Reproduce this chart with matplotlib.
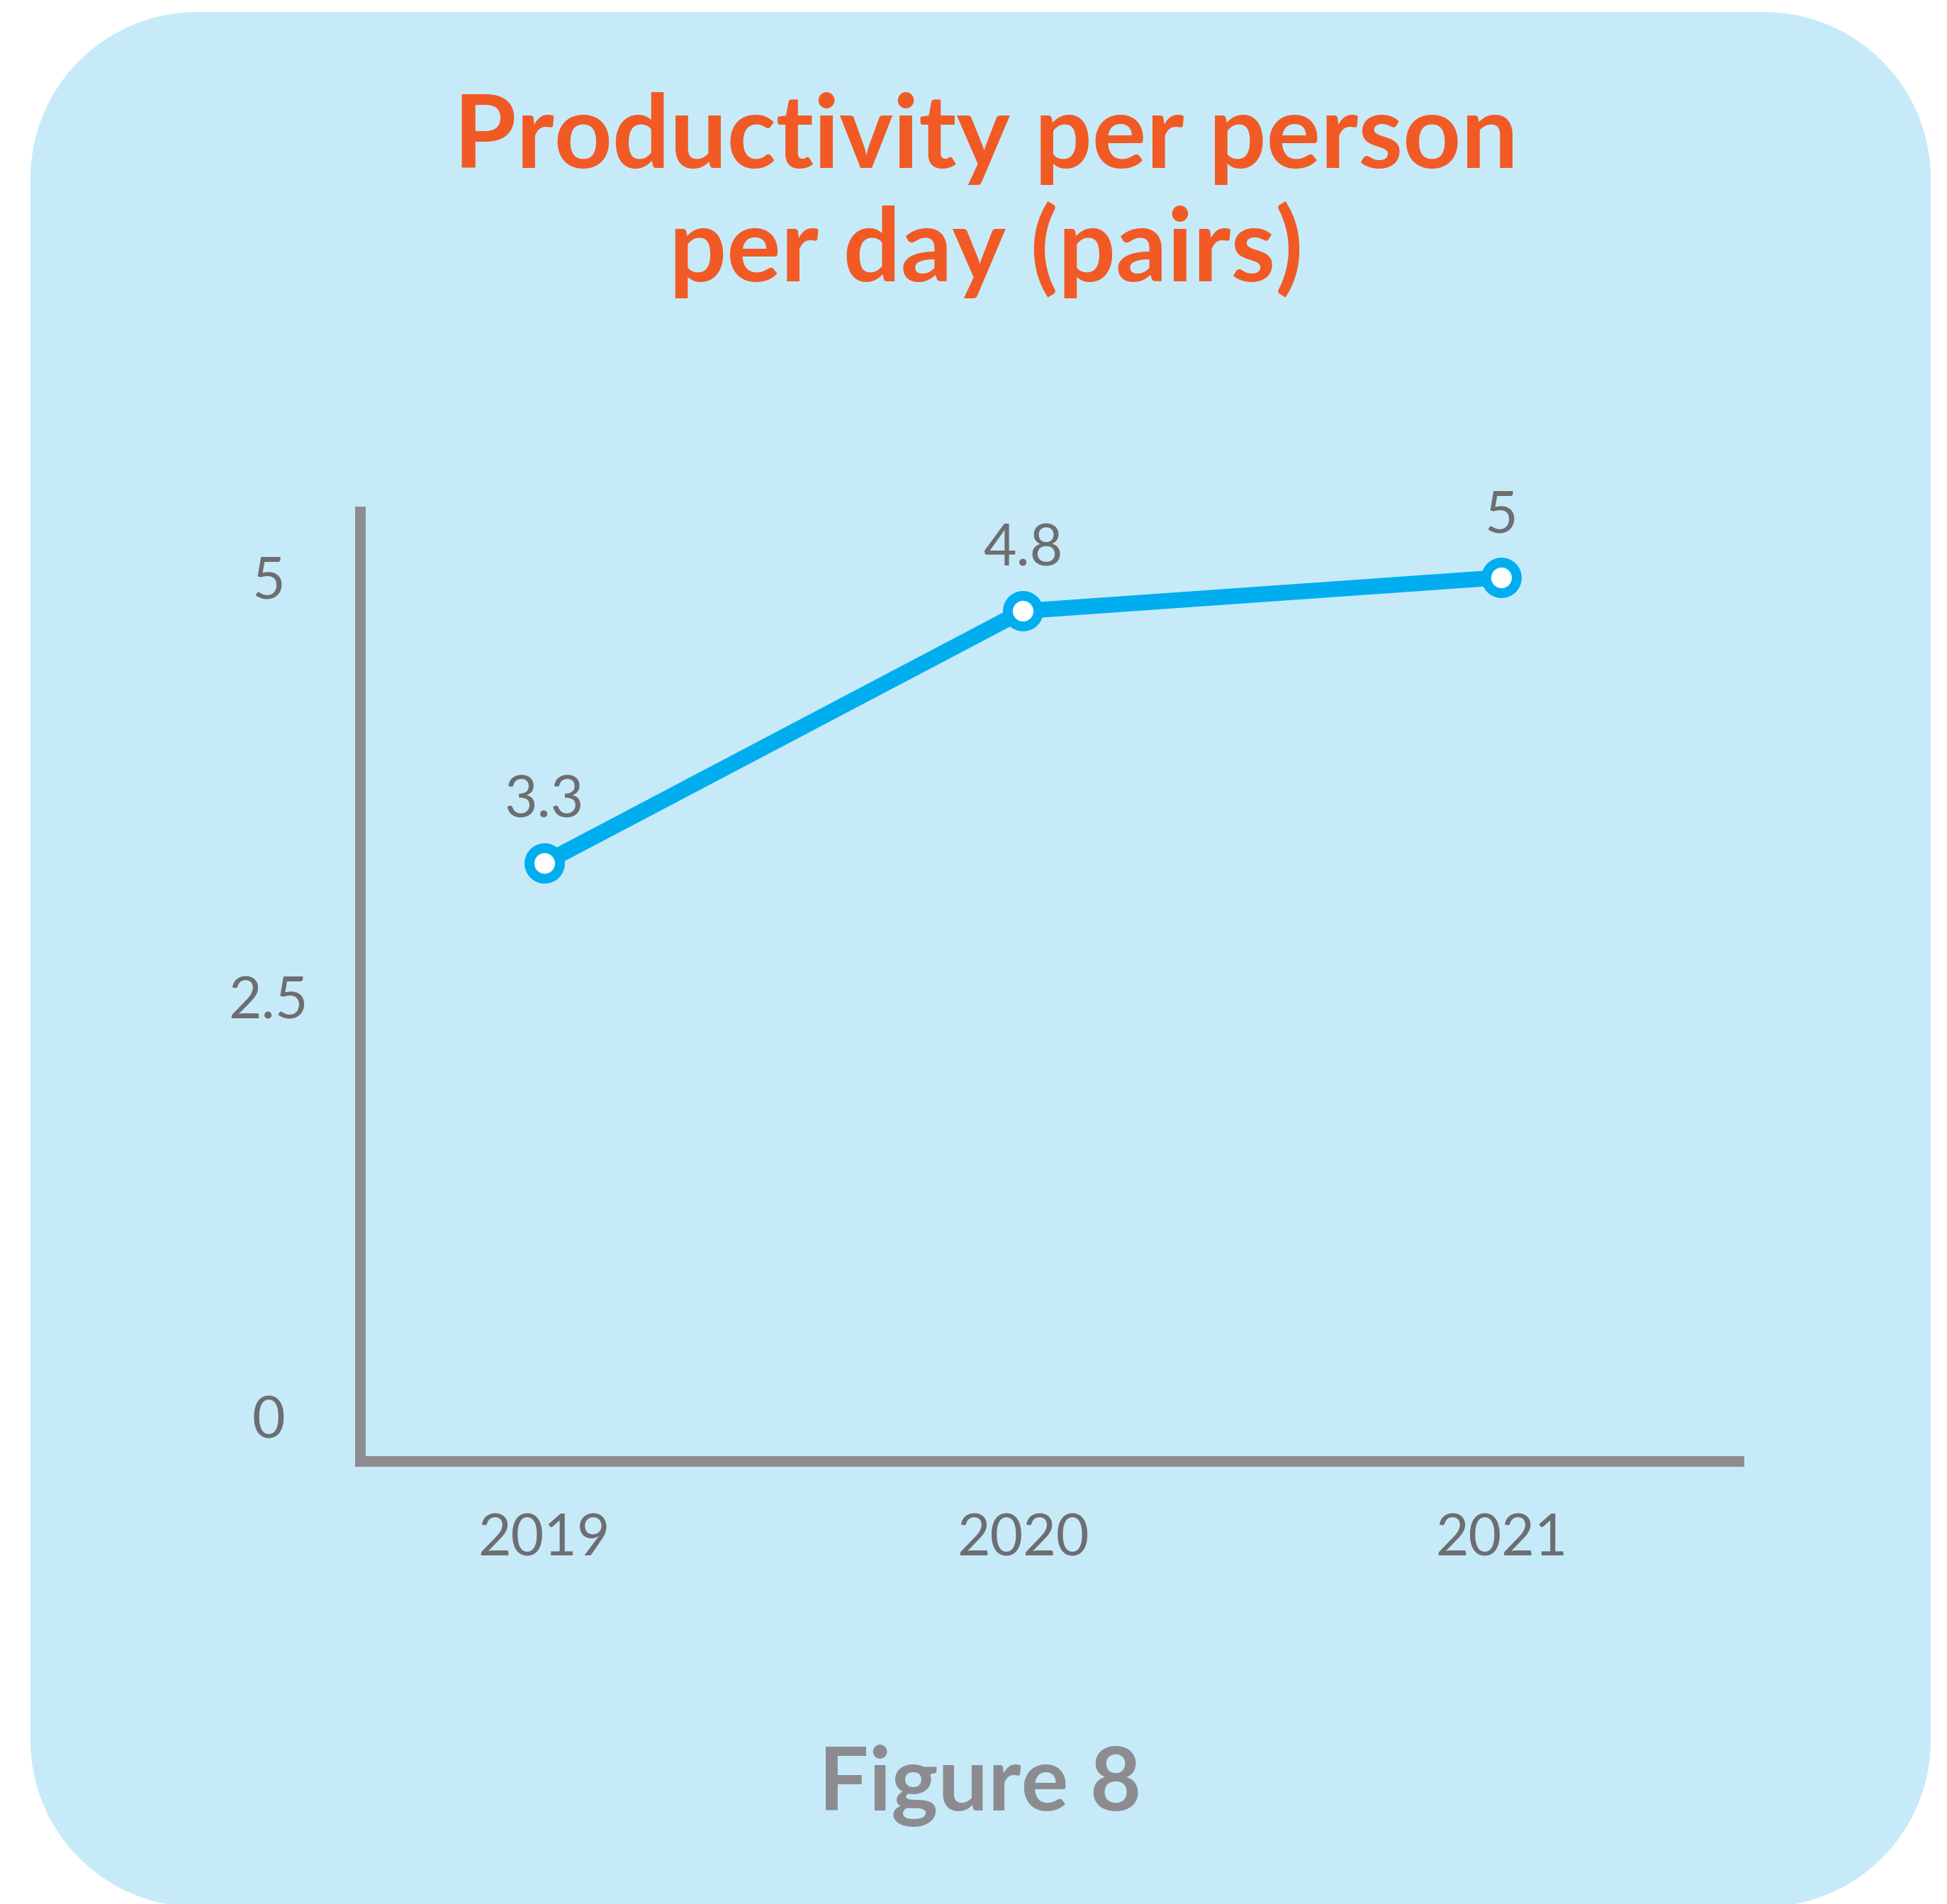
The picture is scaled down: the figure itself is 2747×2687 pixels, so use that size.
import numpy as np
from matplotlib import pyplot as plt
from matplotlib.patches import Polygon

years = ['2019', '2020', '2021']
pares = [3.3, 4.8, 5]
yticks = [0, 2.5, 5]
yticklabels = ['0', '2.5', '5']

titulo1 = 'Productivity per person'
titulo2 = 'per day (pairs)'
pie = 'Figure 8'

celeste = '#C7EAF9'
naranja = '#F15A24'
azul = '#00AEEF'
gris_eje = '#8D8C90'
gris_txt = '#6D6E71'
gris_pie = '#8C8C90'

W, H = 2747, 2687
plt.rcParams['font.family'] = ['Lato', 'DejaVu Sans']

fig = plt.figure(figsize=(W/100, H/100), dpi=100)
fig.patch.set_facecolor('white')

# caja celeste con esquinas redondeadas
def caja(x0, y0, x1, y1, r, n=60):
    pts = []
    for cx, cy, t0, t1 in [(x0+r, y0+r, 180, 90),
                           (x1-r, y0+r, 90, 0),
                           (x1-r, y1-r, 0, -90),
                           (x0+r, y1-r, -90, -180)]:
        t = np.radians(np.linspace(t0, t1, n))
        pts += list(zip(cx + r*np.cos(t), cy - r*np.sin(t)))
    pts = np.array(pts)
    return np.column_stack([pts[:, 0]/W, 1 - pts[:, 1]/H])

fig.patches.append(Polygon(caja(43, 17, 2724, 2691, 235), closed=True,
                           facecolor=celeste, edgecolor='none',
                           transform=fig.transFigure, zorder=-1))

ax = fig.add_axes([508/W, 1 - 2062/H, (2453-508)/W, (2062-722)/H])
ax.set_facecolor('none')

x = np.arange(len(years))
ax.plot(x, pares, '-o', color=azul, lw=16, ms=31, mew=10,
        mfc='white', mec=azul, solid_capstyle='round', zorder=3)

for xi, v in zip(x, pares):
    ax.annotate(f'{v:g}', (xi, v), xytext=(0, 46), textcoords='offset points',
                ha='center', va='baseline', fontsize=58, color=gris_txt)

ax.set_xlim(-0.385, 2.496)
ax.set_ylim(-0.262, 5.392)
ax.set_xticks(x)
ax.set_xticklabels(years)
ax.set_yticks(yticks)
ax.set_yticklabels(yticklabels)
plt.setp(ax.get_yticklabels(), ha='center')
ax.tick_params(axis='x', length=0, pad=53, labelsize=58, labelcolor=gris_txt)
ax.tick_params(axis='y', length=0, pad=93, labelsize=58, labelcolor=gris_txt)

for lado in ['top', 'right']:
    ax.spines[lado].set_visible(False)
for lado in ['left', 'bottom']:
    ax.spines[lado].set_color(gris_eje)
    ax.spines[lado].set_linewidth(10.8)
    ax.spines[lado].set_capstyle('projecting')

fig.text(1391/W, 1 - 237/H, titulo1, ha='center', va='baseline',
         fontsize=103, fontweight='bold', color=naranja)
fig.text(1391/W, 1 - 397/H, titulo2, ha='center', va='baseline',
         fontsize=103, fontweight='bold', color=naranja)
fig.text(1383/W, 1 - 2555/H, pie, ha='center', va='baseline',
         fontsize=90, fontweight='bold', color=gris_pie)

plt.savefig('out.png', dpi=100, facecolor=fig.get_facecolor())
